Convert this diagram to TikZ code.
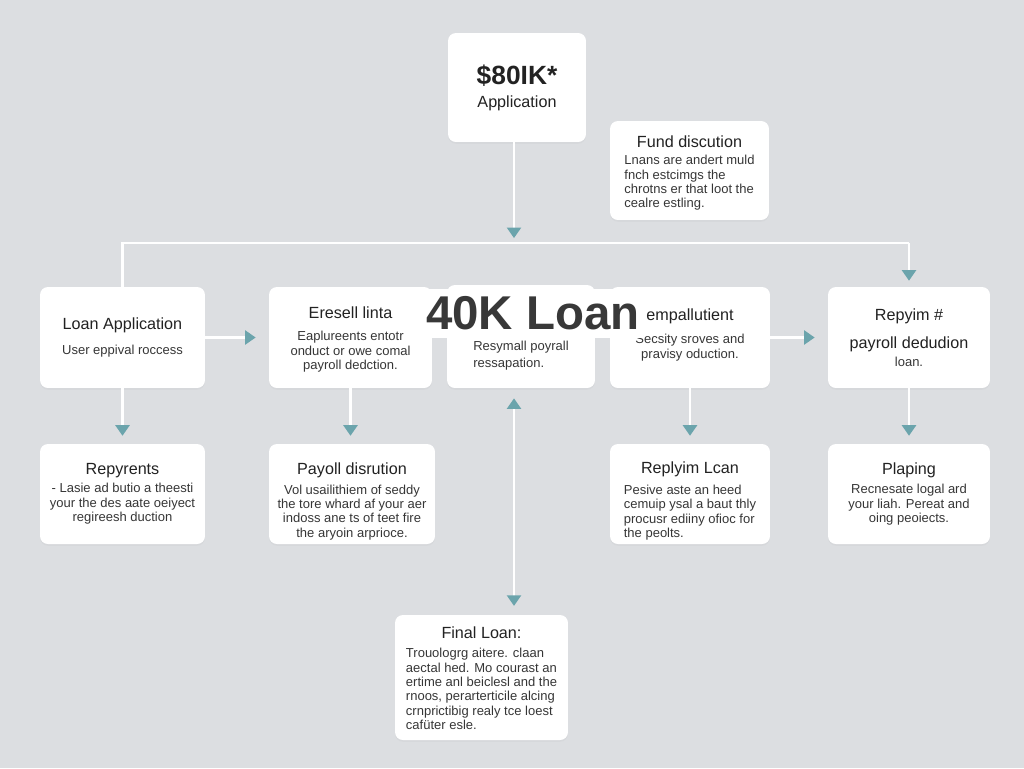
\documentclass[tikz,border=0pt]{standalone}
\usepackage{fontspec}
\setmainfont{Liberation Sans}
\usetikzlibrary{arrows.meta,shadows}
\definecolor{bgc}{HTML}{DCDEE1}
\definecolor{arrowc}{HTML}{6BA4AC}
\definecolor{titlec}{HTML}{222222}
\definecolor{bodyc}{HTML}{363636}
\newcommand{\tf}{\fontsize{9.2pt}{11pt}\selectfont\color{titlec}}
\newcommand{\bdf}{\fontsize{7.4pt}{8.2pt}\selectfont\color{bodyc}}
\newcommand{\bdfw}{\fontsize{7.4pt}{9.6pt}\selectfont\color{bodyc}}
\newcommand{\up}[1]{\rule[-#1]{0pt}{0pt}}
\newcommand{\dn}[1]{\rule{0pt}{#1}}
\tikzset{
  card/.style={fill=white, rounded corners=4.5pt, inner sep=0pt, align=center, font=\bdf,
    drop shadow={opacity=0.06, shadow xshift=0pt, shadow yshift=-1pt}},
  conn/.style={draw=white, line width=1.2pt},
  tip/.style={-{Triangle[width=8pt,length=6pt,color=arrowc]}},
  tips/.style={{Triangle[width=8pt,length=6pt,color=arrowc]}-{Triangle[width=8pt,length=6pt,color=arrowc]}}
}
\begin{document}
\begin{tikzpicture}[x=0.02cm,y=-0.02cm]
\fill[bgc] (0,0) rectangle (1024,768);
\useasboundingbox (0,0) rectangle (1024,768);

% top row
\node[card, minimum width=2.76cm, minimum height=2.18cm] (top) at (517,87.5)
  {{\fontsize{15pt}{17pt}\selectfont\bfseries\color{titlec}\$80IK*}\\[5pt]{\tf Application}};
\node[card, minimum width=3.18cm, minimum height=1.98cm] (fund) at (689.5,170.5)
  {{\tf\dn{10.5pt}Fund discution}\\[3pt]\begin{tabular}{@{}l@{}}Lnans are andert muld\\fnch estcimgs the\\chrotns er that loot the\\cealre estling.\end{tabular}};

% second row
\node[card, minimum width=3.3cm, minimum height=2.02cm] (la) at (122.5,337.5)
  {{\tf Loan Application}\\[6pt]User eppival roccess};
\node[card, minimum width=3.26cm, minimum height=2.02cm] (er) at (350.5,337.5)
  {{\tf\dn{9pt}Eresell linta}\\[4.5pt]Eaplureents entotr\\onduct or owe comal\\payroll dedction.};
\node[card, font=\bdfw, minimum width=2.96cm, minimum height=2.06cm] (mid) at (521,336.5)
  {\begin{tabular}{@{}l@{}}\rule{0pt}{19pt}\\Resymall poyrall\\ressapation.\end{tabular}};
\node[card, minimum width=3.2cm, minimum height=2.02cm] (emp) at (690,337.5)
  {{\tf empallutient}\\[5pt]Secsity sroves and\\pravisy oduction.\up{4.6pt}};
\node[card, minimum width=3.24cm, minimum height=2.02cm] (rp) at (909,337.5)
  {{\tf Repyim \#}\\[6.5pt]{\tf payroll dedudion}\\[1.7pt]loan.};

% third row
\node[card, minimum width=3.3cm, minimum height=2.0cm] (rep) at (122.5,494)
  {{\tf Repyrents}\\[2pt]- Lasie ad butio a theesti\\your the des aate oeiyect\\regireesh duction};
\node[card, minimum width=3.32cm, minimum height=2.0cm] (pay) at (352,494)
  {{\tf\dn{15.1pt}Payoll disrution}\\[3pt]Vol usailithiem of seddy\\the tore whard af your aer\\indoss ane ts of teet fire\\the aryoin arprioce.};
\node[card, minimum width=3.2cm, minimum height=2.0cm] (rl) at (690,494)
  {{\tf\dn{15.7pt}Replyim Lcan}\\[3pt]\begin{tabular}{@{}l@{}}Pesive aste an heed\\cemuip ysal a baut thly\\procusr ediiny ofioc for\\the peolts.\end{tabular}};
\node[card, minimum width=3.24cm, minimum height=2.0cm] (pl) at (909,494)
  {{\tf Plaping}\\[3pt]Recnesate logal ard\\your liah. Pereat and\\oing peoiects.};

% bottom
\node[card, minimum width=3.46cm, minimum height=2.5cm] (fin) at (481.5,677.5)
  {{\tf\dn{10.1pt}Final Loan:}\\[4pt]\begin{tabular}{@{}l@{}}Trouologrg aitere. claan\\aectal hed. Mo courast an\\ertime anl beiclesl and the\\rnoos, perarterticile alcing\\crnprictibig realy tce loest\\cafüter esle.\end{tabular}};

% connectors
\coordinate (hub) at (514,243);
\coordinate (busL) at (122.5,243);
\coordinate (busR) at (909,243);
\draw[conn, tip, shorten >=2.8pt] (top.south -| hub) -- (hub);
\draw[conn] (la.north) -- (busL) -- (busR);
\draw[conn, tip, shorten >=3.4pt] (busR) -- (rp.north);
\draw[conn, tip, shorten >=7.4pt] (la) -- (er);
\draw[conn, tip, shorten >=7.4pt] (emp) -- (rp);
\draw[conn, tip, shorten >=4.5pt] (la) -- (rep);
\draw[conn, tip, shorten >=4.5pt] (er.south) -- (er.south |- pay.north);
\draw[conn, tip, shorten >=4.5pt] (emp) -- (rl);
\draw[conn, tip, shorten >=4.5pt] (rp) -- (pl);
\draw[conn, tips, shorten <=5.7pt, shorten >=5pt] (mid.south -| hub) -- (fin.north -| hub);

% overlay title
\node[fill=white, inner xsep=2pt, inner ysep=1pt, minimum height=0.98cm, text=titlec!90!white,
  font=\fontsize{27pt}{30pt}\selectfont\bfseries] (big) at (533,313) {40K Loan};
\end{tikzpicture}
\end{document}
